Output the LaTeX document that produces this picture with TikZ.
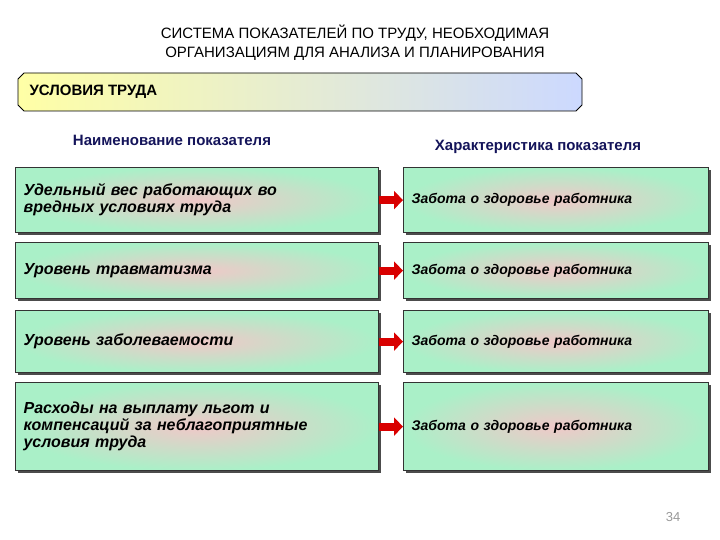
\documentclass[tikz,border=0pt]{standalone}
\usepackage{fontspec}
\setmainfont{Liberation Sans}
\usetikzlibrary{shadows,arrows.meta}
\begin{document}
\begin{tikzpicture}[x=1pt,y=-1pt,
 box/.style={draw=black!80,line width=1.2pt,inner color={rgb,255:red,240;green,200;blue,200},outer color={rgb,255:red,170;green,240;blue,200},
   drop shadow={shadow xshift=2pt,shadow yshift=-2pt,fill=black!70,opacity=1},
   text width=#1, align=left, font=\fontsize{16}{17}\selectfont\bfseries\itshape, inner xsep=8pt, anchor=north west},
 hdr/.style={font=\fontsize{15}{17}\selectfont\bfseries, text={rgb,255:red,20;green,20;blue,90}},
 arr/.style={-{Triangle[length=9pt,width=18pt]}, line width=8pt, red!85!black}]
\useasboundingbox (0,0) rectangle (720,540);
\node[align=center,font=\fontsize{15}{19}\selectfont] (title) at (355,43) {СИСТЕМА ПОКАЗАТЕЛЕЙ ПО ТРУДУ, НЕОБХОДИМАЯ\\ОРГАНИЗАЦИЯМ ДЛЯ АНАЛИЗА И ПЛАНИРОВАНИЯ};
\shade[left color=yellow!35,right color=cyan!25!blue!20,draw=black,line width=0.8pt]
 (24,73) -- (576,73) -- (582,79) -- (582,105) -- (576,111) -- (24,111) -- (18,105) -- (18,79) -- cycle;
\node[font=\fontsize{15}{17}\selectfont\bfseries,anchor=west] (banner) at (26,92) {УСЛОВИЯ ТРУДА};
\node[hdr] (h1) at (172,140) {Наименование показателя};
\node[hdr] (h2) at (538,147) {Характеристика показателя};
\foreach \i/\y/\h/\t in {1/167/65/{Удельный вес работающих во\\вредных условиях труда},2/242/56/{Уровень травматизма},3/310/62/{Уровень заболеваемости},4/382/88/{Расходы на выплату льгот и\\компенсаций за неблагоприятные\\условия труда}}{
 \node[box=347pt,minimum height=\h pt] (L\i) at (15,\y) {\t};
 \node[box=289pt,minimum height=\h pt,font=\fontsize{14}{16}\selectfont\bfseries\itshape] (R\i) at (403,\y) {Забота о здоровье работника};
 \draw[arr] (L\i.east) -- (R\i.west);
}
\node[text=black!40,font=\fontsize{13}{15}\selectfont] (pg) at (673,517) {34};
\end{tikzpicture}
\end{document}
